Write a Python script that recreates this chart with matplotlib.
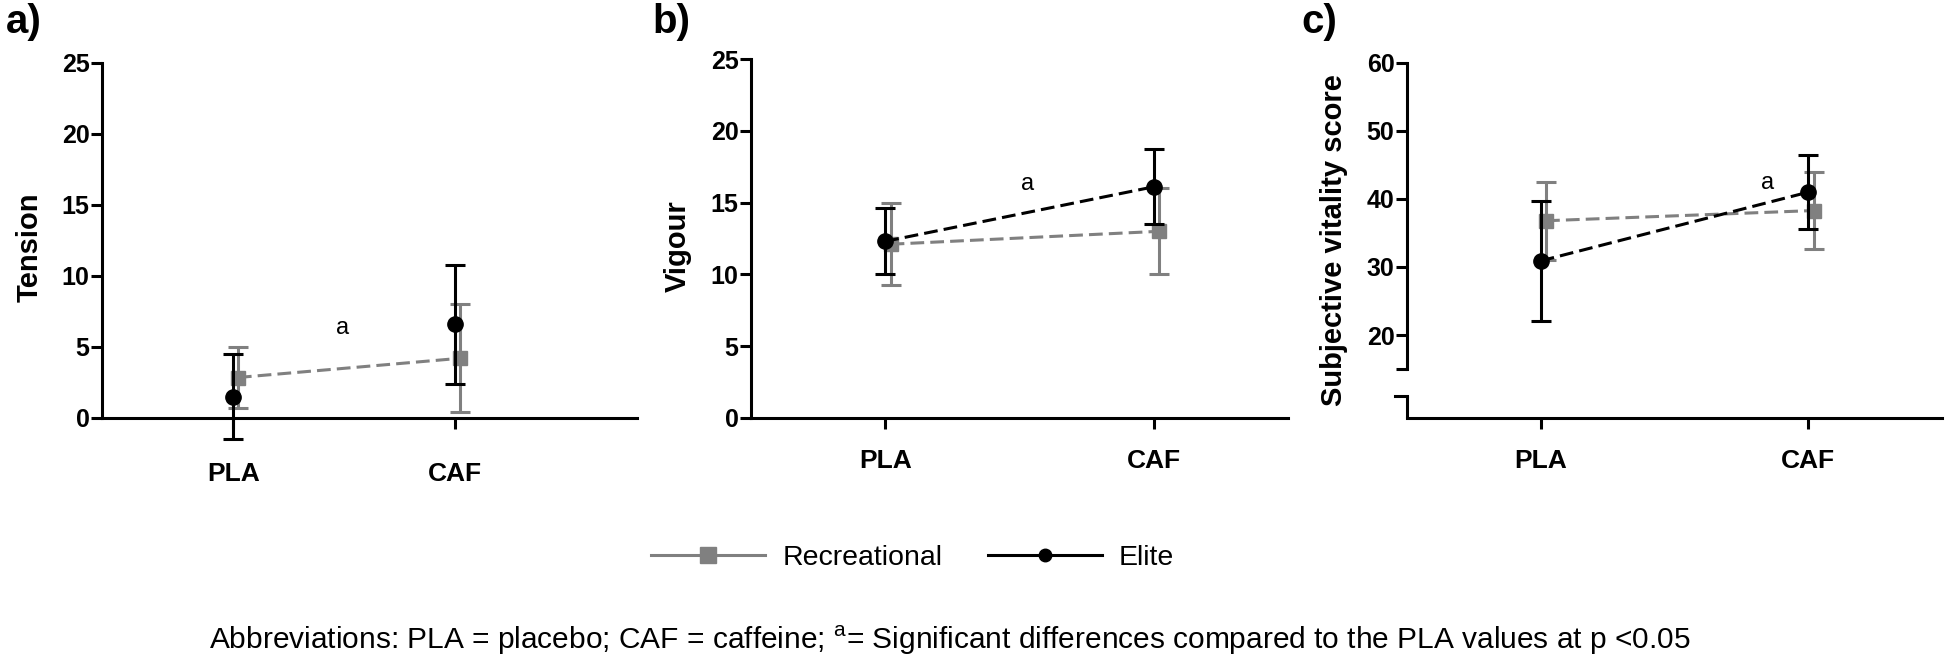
import numpy as np
import matplotlib
matplotlib.use("Agg")
import matplotlib.pyplot as plt
from matplotlib.lines import Line2D

plt.rcParams['font.family'] = ['Liberation Sans', 'DejaVu Sans']
plt.rcParams['mathtext.fontset'] = 'custom'
plt.rcParams['mathtext.rm'] = 'Liberation Sans'

conditions = ["PLA", "CAF"]
groups = ["Recreational", "Elite"]

# mean and SD
tension_rec = [2.85, 4.2]
tension_rec_sd = [2.15, 3.8]
tension_elite = [1.5, 6.6]
tension_elite_sd = [3.0, 4.2]

vigour_rec = [12.1, 13.0]
vigour_rec_sd = [2.85, 3.0]
vigour_elite = [12.3, 16.1]
vigour_elite_sd = [2.3, 2.6]

vitality_rec = [36.8, 38.3]
vitality_rec_sd = [5.75, 5.6]
vitality_elite = [30.9, 41.0]
vitality_elite_sd = [8.8, 5.4]

GRAY = "#808080"
LW = 2.2

fig = plt.figure(figsize=(19.46, 6.6), dpi=100)

# panel positions [left, bottom, width, height] in figure fractions
ax_a = fig.add_axes([0.0524, 0.3667, 0.2749, 0.5379])
ax_b = fig.add_axes([0.3859, 0.3667, 0.2760, 0.5439])
ax_c = fig.add_axes([0.7230, 0.3667, 0.2749, 0.5379])

x = np.array([1.0, 2.0])
off = 0.02


def draw(ax, rec, rec_sd, eli, eli_sd, elite_line=True):
    ax.errorbar(x + off, rec, yerr=rec_sd, color=GRAY, ls=(0, (4.5, 2)), lw=LW,
                marker="s", ms=10, elinewidth=LW, capsize=7, capthick=LW,
                clip_on=False, zorder=3)
    ax.errorbar(x, eli, yerr=eli_sd, color="black",
                ls=(0, (4.5, 2)) if elite_line else "none", lw=LW,
                marker="o", ms=11, elinewidth=LW, capsize=7, capthick=LW,
                clip_on=False, zorder=4)
    for s in ["top", "right"]:
        ax.spines[s].set_visible(False)
    for s in ["left", "bottom"]:
        ax.spines[s].set_linewidth(LW)
    ax.set_xticks(x)
    ax.set_xticklabels(conditions, fontsize=19, fontweight="bold")
    ax.tick_params(axis="both", width=LW, length=8, direction="out")
    ax.tick_params(axis="y", labelsize=18, pad=1)


def bold_y(ax):
    for lab in ax.get_yticklabels():
        lab.set_fontweight("bold")


draw(ax_a, tension_rec, tension_rec_sd, tension_elite, tension_elite_sd, elite_line=False)
ax_a.set_xlim(0.407, 2.82)
ax_a.set_ylim(0, 25)
ax_a.set_yticks([0, 5, 10, 15, 20, 25])
bold_y(ax_a)
ax_a.tick_params(axis="x", pad=24)
ax_a.set_ylabel("Tension", fontsize=21, fontweight="bold")
ax_a.yaxis.set_label_coords(-0.11, 0.48)
ax_a.text(1.49, 6.35, "a", fontsize=17, ha="center", va="center")

draw(ax_b, vigour_rec, vigour_rec_sd, vigour_elite, vigour_elite_sd)
ax_b.set_xlim(0.5, 2.5)
ax_b.set_ylim(0, 25)
ax_b.set_yticks([0, 5, 10, 15, 20, 25])
bold_y(ax_b)
ax_b.tick_params(axis="x", pad=14)
ax_b.set_ylabel("Vigour", fontsize=21, fontweight="bold")
ax_b.yaxis.set_label_coords(-0.11, 0.48)
ax_b.text(1.53, 16.3, "a", fontsize=17, ha="center", va="center")

draw(ax_c, vitality_rec, vitality_rec_sd, vitality_elite, vitality_elite_sd)
ax_c.set_xlim(0.5, 2.5)
ax_c.set_ylim(7.8, 60)
ax_c.spines["left"].set_bounds(15, 60)
ax_c.set_yticks([15, 20, 30, 40, 50, 60])
ax_c.set_yticklabels(["", "20", "30", "40", "50", "60"])
bold_y(ax_c)
ax_c.tick_params(axis="x", pad=14)
# lower piece of the broken y axis
tr = ax_c.get_yaxis_transform()
ax_c.plot([0, 0], [7.8, 11.0], transform=tr, color="black", lw=LW,
          clip_on=False, solid_capstyle="butt")
ax_c.plot([-0.022, 0], [11.0, 11.0], transform=tr, color="black", lw=LW,
          clip_on=False)
ax_c.set_ylabel("Subjective vitality score", fontsize=21, fontweight="bold")
ax_c.yaxis.set_label_coords(-0.11, 0.5)
ax_c.text(1.85, 42.3, "a", fontsize=17, ha="center", va="center")

fig.text(0.003, 0.995, "a)", fontsize=29, fontweight="bold", va="top")
fig.text(0.335, 0.995, "b)", fontsize=29, fontweight="bold", va="top")
fig.text(0.669, 0.995, "c)", fontsize=29, fontweight="bold", va="top")

handles = [
    Line2D([], [], color=GRAY, lw=LW, marker="s", ms=11),
    Line2D([], [], color="black", lw=LW, marker="o", ms=9),
]
fig.legend(handles, groups, loc="center", bbox_to_anchor=(0.469, 0.155), ncol=2,
           frameon=False, fontsize=20.5, handlelength=4, handletextpad=0.6,
           columnspacing=1.6)

fig.text(0.488, 0.03,
         "Abbreviations: PLA = placebo; CAF = caffeine; $^{\\mathrm{a}}$= Significant "
         "differences compared to the PLA values at p <0.05",
         fontsize=21.5, ha="center", va="center")

fig.savefig("out.png", dpi=100)
